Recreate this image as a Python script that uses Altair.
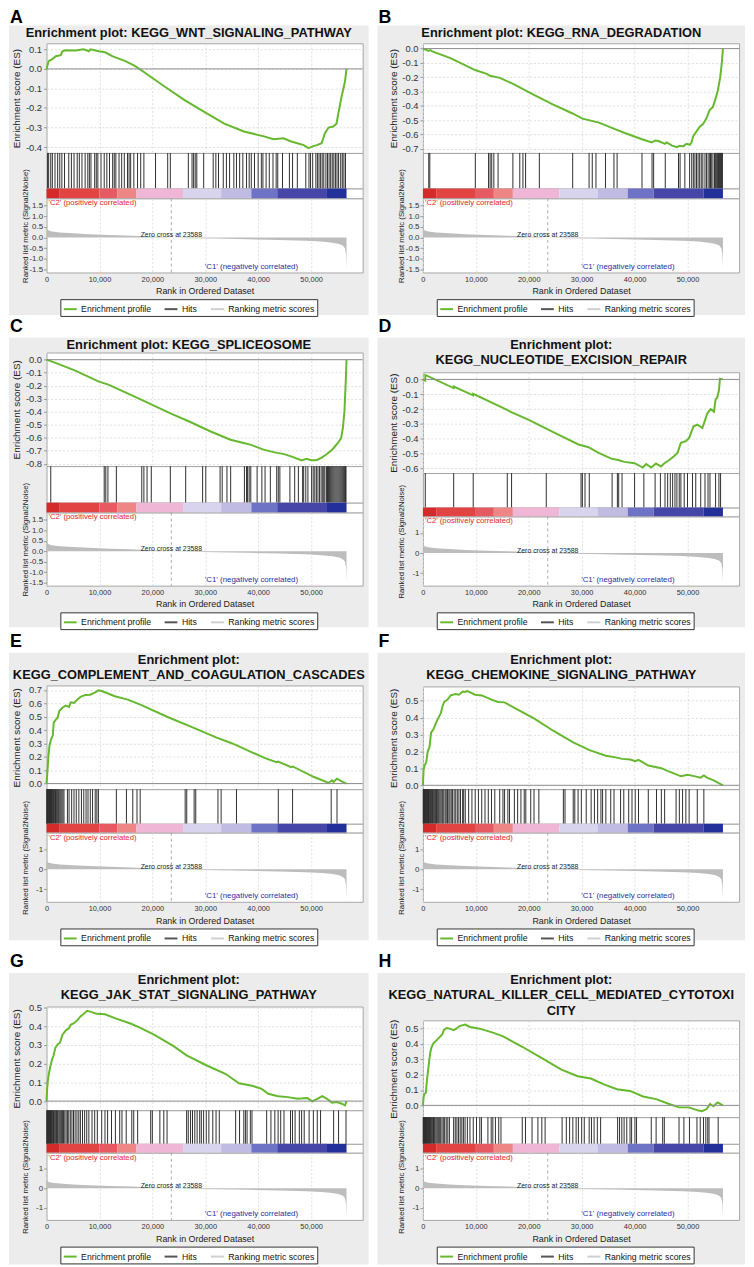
import altair as alt
import pandas as pd

FONT = "Liberation Sans"
GREEN = "#66b82e"
HIT_COLOR = "#2e2e2e"
AREA_GRAY = "#bdbdbd"
PANEL_GRAY = "#ececec"
BORDER = "#a6a6a6"
GRID = "#d6d6d6"
C2_RED = "#e0262b"
C1_BLUE = "#2e2e9e"

PLOT_W = 320
X_MAX = 59750
X_TICKS = [0, 10000, 20000, 30000, 40000, 50000]
ZERO_CROSS = 23588
C1_LABEL_RANK = 29900

# ranked list metric (same dataset in every panel), rank in thousands
METRIC_RANK_K = [0, 0.3, 1, 2.5, 5, 8, 12, 16, 20, 23.588, 27, 32, 38, 44, 49, 52, 54, 55.3, 56.0, 56.4, 56.6, 56.7]
METRIC_VALUE = [0.42, 0.34, 0.29, 0.24, 0.2, 0.16, 0.12, 0.09, 0.05, 0.0, -0.03, -0.05, -0.08, -0.11, -0.15, -0.19, -0.24, -0.3, -0.38, -0.5, -0.8, -1.45]

# colour band under the hits
BAND_START_K = [0, 2.5, 10.0, 13.4, 17.0, 25.8, 33.0, 38.7, 43.6, 53.0]
BAND_END_K = [2.5, 10.0, 13.4, 17.0, 25.8, 33.0, 38.7, 43.6, 53.0, 56.7]
BAND_COLOR = ["#d42a2a", "#e24444", "#e65a62", "#ee8686", "#f0b6d6", "#d8d4ee", "#c0bbe2", "#6f73c6", "#4646a9", "#23309a"]

LEGEND_NAMES = ["Enrichment profile", "Hits", "Ranking metric scores"]
LEGEND_COLORS = [GREEN, "#555555", "#cfcfcf"]

# ---------------- panel A ----------------
A_RANK_K = [0, 0.4, 1.1, 1.75, 2.7, 3.0, 3.6, 5.5, 7.0, 8.0, 8.3, 9.9, 11.1, 12.4, 14.9, 16.7, 18.6, 22.3, 26.1, 29.8, 33.6, 37.3, 41.1, 42.9, 44.8, 46.1, 48.6, 49.5, 50.4, 51.1, 52.0, 52.6, 53.3, 54.2, 54.8, 55.1, 55.7, 56.4, 56.7]
A_ES = [0.0, 0.04, 0.05, 0.065, 0.07, 0.09, 0.095, 0.094, 0.1, 0.09, 0.1, 0.09, 0.085, 0.065, 0.04, 0.015, -0.02, -0.09, -0.16, -0.22, -0.28, -0.32, -0.345, -0.36, -0.355, -0.37, -0.39, -0.405, -0.395, -0.39, -0.38, -0.33, -0.30, -0.295, -0.28, -0.235, -0.15, -0.065, 0.0]
A_HITS_K = [0.2, 0.4, 0.8, 1.1, 1.6, 2.1, 2.5, 2.9, 3.4, 4.2, 4.7, 5.2, 5.8, 6.2, 6.7, 7.3, 7.8, 8.1, 8.4, 9.1, 9.4, 9.7, 10.3, 10.9, 11.4, 11.9, 12.5, 12.8, 13.1, 13.7, 14.2, 14.7, 15.3, 15.6, 15.9, 16.5, 17.2, 17.8, 18.4, 20.6, 22.9, 23.4, 26.8, 27.5, 27.8, 28.1, 28.4, 29.7, 31.5, 32.0, 32.5, 33.4, 34.0, 34.6, 35.4, 35.9, 36.5, 37.1, 37.8, 38.3, 38.7, 39.3, 40.0, 40.6, 40.9, 41.5, 42.1, 42.8, 43.4, 43.7, 44.6, 45.9, 46.5, 47.4, 49.0, 49.6, 49.9, 50.3, 50.9, 51.2, 51.5, 51.8, 52.1, 52.4, 52.8, 53.1, 53.4, 53.7, 54.0, 54.3, 54.6, 54.9, 55.2, 55.6, 55.9, 56.2, 56.5]
A_ES_TICKS = [0.1, 0.0, -0.1, -0.2, -0.3, -0.4]

# ---------------- panel B ----------------
B_RANK_K = [0, 0.8, 1.1, 1.4, 1.75, 5.2, 9.86, 12.05, 12.67, 14.54, 17.04, 20.79, 24.53, 28.28, 30.15, 33.27, 36.4, 38.27, 41.39, 43.26, 43.88, 44.5, 45.76, 46.07, 47.0, 47.94, 48.56, 49.19, 49.81, 50.44, 50.75, 51.06, 51.69, 52.31, 52.93, 53.56, 54.18, 54.81, 55.31, 55.74, 56.18, 56.5, 56.7]
B_ES = [0.0, -0.012, -0.016, -0.01, -0.02, -0.067, -0.15, -0.177, -0.19, -0.205, -0.247, -0.32, -0.39, -0.454, -0.49, -0.518, -0.565, -0.592, -0.634, -0.657, -0.643, -0.647, -0.666, -0.657, -0.677, -0.69, -0.68, -0.684, -0.666, -0.673, -0.657, -0.615, -0.58, -0.546, -0.528, -0.49, -0.43, -0.408, -0.35, -0.293, -0.2, -0.097, 0.0]
B_HITS_K = [1.1, 1.3, 9.9, 12.4, 12.7, 13.0, 13.4, 14.2, 17.0, 18.3, 18.9, 19.4, 22.0, 28.3, 31.4, 32.0, 32.7, 34.5, 36.1, 36.7, 41.4, 43.3, 43.6, 45.8, 48.3, 48.6, 49.5, 50.4, 50.8, 51.1, 51.4, 51.7, 52.0, 52.3, 52.6, 52.9, 53.3, 53.6, 53.9, 54.2, 54.35, 54.5, 54.8, 55.1, 55.25, 55.4, 55.55, 55.7, 55.85, 56.0, 56.1, 56.2, 56.3, 56.4, 56.5, 56.6]
B_ES_TICKS = [0.0, -0.1, -0.2, -0.3, -0.4, -0.5, -0.6, -0.7]

# ---------------- panel C ----------------
C_RANK_K = [0, 1.69, 5.43, 9.8, 11.67, 16.04, 19.79, 23.53, 27.28, 31.02, 34.77, 37.27, 38.51, 41.01, 43.51, 44.76, 46.63, 48.19, 49.13, 50.06, 51.0, 51.94, 52.87, 53.81, 54.43, 55.06, 55.68, 56.0, 56.3, 56.55, 56.7]
C_ES = [0.0, -0.025, -0.084, -0.167, -0.192, -0.273, -0.344, -0.415, -0.481, -0.552, -0.615, -0.64, -0.653, -0.691, -0.716, -0.724, -0.749, -0.775, -0.762, -0.772, -0.772, -0.754, -0.729, -0.699, -0.671, -0.64, -0.603, -0.527, -0.4, -0.17, 0.0]
C_HITS_K = [0.8, 10.9, 11.2, 11.6, 13.2, 18.0, 18.4, 19.0, 19.8, 23.4, 26.3, 29.5, 30.1, 32.8, 33.2, 34.1, 34.8, 37.4, 37.8, 38.0, 38.3, 38.6, 39.8, 40.7, 41.3, 42.3, 43.5, 43.8, 44.1, 46.0, 46.9, 47.6, 48.4, 48.6, 49.0, 49.4, 50.1, 50.4, 50.7, 51.0, 51.3, 51.6, 51.9, 52.2, 52.4, 52.6, 52.9, 53.1, 53.3, 53.5, 53.7, 53.9, 54.1, 54.3, 54.5, 54.7, 54.9, 55.1, 55.3, 55.5, 55.7, 55.9, 56.1, 56.3, 56.5, 56.6]
C_ES_TICKS = [0.0, -0.1, -0.2, -0.3, -0.4, -0.5, -0.6, -0.7, -0.8]

# ---------------- panel D ----------------
D_RANK_K = [0, 0.43, 0.45, 5.8, 5.82, 9.48, 9.5, 15.9, 16.7, 20.0, 25.0, 29.4, 31.3, 33.1, 35.6, 36.9, 38.1, 40.0, 41.56, 42.19, 43.13, 44.06, 45.0, 45.63, 46.56, 47.5, 48.13, 48.75, 49.69, 50.31, 51.13, 51.88, 52.81, 53.13, 53.75, 54.38, 55.0, 55.31, 55.63, 55.94, 56.13, 56.69]
D_ES = [0.0, -0.008, 0.03, -0.058, -0.048, -0.107, -0.097, -0.205, -0.22, -0.272, -0.361, -0.438, -0.456, -0.493, -0.533, -0.542, -0.555, -0.564, -0.593, -0.569, -0.593, -0.566, -0.586, -0.564, -0.542, -0.515, -0.493, -0.427, -0.416, -0.394, -0.316, -0.305, -0.327, -0.294, -0.228, -0.2, -0.217, -0.135, -0.122, -0.073, 0.004, 0.0]
D_HITS_K = [0.44, 5.81, 9.5, 15.94, 16.75, 23.31, 29.88, 30.13, 30.63, 31.44, 35.75, 36.75, 37.0, 37.63, 40.0, 41.75, 43.88, 44.88, 45.75, 46.25, 46.75, 47.19, 47.63, 48.0, 48.44, 48.75, 49.38, 50.0, 50.94, 51.56, 52.5, 53.31, 53.88, 54.25, 55.31, 55.94, 56.25]
D_ES_TICKS = [0.0, -0.1, -0.2, -0.3, -0.4, -0.5, -0.6]

# ---------------- panel E ----------------
E_RANK_K = [0, 0.12, 0.25, 0.37, 0.56, 0.86, 1.17, 1.36, 1.79, 2.1, 2.41, 3.02, 3.64, 4.26, 4.57, 5.19, 5.8, 6.42, 7.35, 8.27, 9.2, 9.81, 10.43, 12.9, 15.37, 17.84, 22.78, 27.72, 32.04, 35.12, 38.83, 41.3, 43.46, 43.77, 46.23, 46.54, 50.56, 53.33, 53.95, 54.26, 54.88, 55.8, 56.7]
E_ES = [0.0, 0.062, 0.135, 0.21, 0.283, 0.333, 0.357, 0.456, 0.48, 0.493, 0.542, 0.567, 0.584, 0.574, 0.608, 0.603, 0.628, 0.648, 0.663, 0.665, 0.682, 0.697, 0.692, 0.653, 0.628, 0.589, 0.5, 0.419, 0.345, 0.3, 0.234, 0.19, 0.16, 0.165, 0.123, 0.128, 0.049, 0.005, 0.025, 0.012, 0.037, 0.017, 0.0]
E_HITS_K = [0.05, 0.1, 0.18, 0.25, 0.33, 0.4, 0.48, 0.57, 0.66, 0.75, 0.86, 0.95, 1.05, 1.16, 1.3, 1.42, 1.55, 1.7, 1.85, 2.0, 2.15, 2.3, 2.5, 2.7, 2.9, 3.1, 3.3, 3.95, 4.26, 4.75, 5.19, 5.62, 6.11, 6.6, 7.04, 7.47, 7.84, 8.27, 8.7, 9.2, 9.51, 9.81, 13.2, 15.1, 16.3, 17.1, 17.7, 26.2, 26.5, 27.9, 28.2, 32.4, 33.0, 35.9, 43.8, 46.5, 53.8, 54.9]
E_ES_TICKS = [0.0, 0.1, 0.2, 0.3, 0.4, 0.5, 0.6, 0.7]

# ---------------- panel F ----------------
F_RANK_K = [0, 0.12, 0.31, 0.62, 0.93, 1.23, 1.54, 1.98, 2.35, 2.78, 3.09, 3.4, 3.7, 4.01, 4.63, 5.25, 6.17, 6.79, 7.53, 8.02, 8.33, 9.88, 11.11, 12.96, 14.2, 15.43, 17.28, 20.99, 24.69, 28.4, 31.48, 34.57, 36.42, 37.65, 39.2, 40.12, 40.74, 42.59, 45.06, 45.99, 48.77, 50.0, 51.23, 52.47, 53.09, 53.7, 54.94, 56.7]
F_ES = [0.0, 0.088, 0.117, 0.136, 0.204, 0.224, 0.311, 0.331, 0.36, 0.389, 0.409, 0.428, 0.467, 0.492, 0.506, 0.531, 0.539, 0.535, 0.554, 0.551, 0.558, 0.535, 0.531, 0.506, 0.492, 0.49, 0.457, 0.395, 0.321, 0.253, 0.208, 0.175, 0.165, 0.156, 0.152, 0.142, 0.15, 0.117, 0.101, 0.088, 0.053, 0.062, 0.054, 0.045, 0.058, 0.045, 0.029, 0.0]
F_HITS_K = [0.05, 0.12, 0.2, 0.3, 0.38, 0.46, 0.55, 0.65, 0.75, 0.85, 0.95, 1.05, 1.15, 1.28, 1.4, 1.52, 1.65, 1.8, 1.95, 2.1, 2.25, 2.4, 2.55, 2.7, 2.85, 3.0, 3.2, 3.4, 3.6, 3.75, 3.95, 4.2, 4.4, 4.65, 4.9, 5.1, 5.35, 5.6, 5.9, 6.2, 6.5, 6.8, 7.1, 7.5, 7.7, 8.0, 8.64, 9.26, 9.88, 10.49, 11.11, 11.73, 12.35, 12.96, 13.58, 14.51, 15.12, 15.43, 16.05, 16.36, 17.28, 17.9, 18.52, 19.14, 19.44, 20.37, 20.99, 21.91, 26.54, 26.85, 28.4, 28.7, 29.32, 29.94, 30.86, 31.79, 32.41, 33.02, 33.64, 33.95, 34.57, 35.49, 36.11, 37.35, 37.96, 38.89, 39.51, 40.12, 40.74, 42.59, 44.14, 45.06, 45.68, 47.84, 48.46, 49.07, 49.69, 50.31, 51.85, 53.09]
F_ES_TICKS = [0.0, 0.1, 0.2, 0.3, 0.4, 0.5]

# ---------------- panel G ----------------
G_RANK_K = [0, 0.12, 0.25, 0.43, 0.68, 1.05, 1.3, 1.67, 2.1, 2.53, 3.02, 3.64, 4.26, 4.57, 5.19, 5.8, 6.42, 7.04, 7.65, 8.27, 9.51, 11.05, 12.9, 15.99, 17.84, 20.31, 24.01, 26.48, 30.19, 33.89, 36.36, 38.83, 40.68, 41.91, 43.77, 45.62, 47.47, 49.32, 50.25, 51.17, 52.1, 53.02, 53.95, 54.88, 55.8, 56.42, 56.7]
G_ES = [0.0, 0.065, 0.109, 0.144, 0.179, 0.223, 0.24, 0.284, 0.302, 0.311, 0.354, 0.377, 0.389, 0.407, 0.416, 0.43, 0.451, 0.465, 0.481, 0.477, 0.465, 0.463, 0.442, 0.412, 0.389, 0.354, 0.293, 0.244, 0.191, 0.144, 0.095, 0.082, 0.065, 0.039, 0.026, 0.021, 0.012, 0.016, -0.002, 0.012, 0.026, 0.012, -0.009, -0.005, -0.014, -0.023, 0.0]
G_HITS_K = [0.05, 0.12, 0.2, 0.28, 0.36, 0.45, 0.55, 0.65, 0.75, 0.85, 0.95, 1.08, 1.2, 1.32, 1.45, 1.6, 1.75, 1.9, 2.05, 2.2, 2.4, 2.6, 2.8, 3.0, 3.2, 3.45, 3.7, 3.95, 4.2, 4.5, 4.8, 5.1, 5.4, 5.75, 6.1, 6.4, 6.8, 7.2, 7.6, 8.0, 8.6, 9.1, 9.6, 10.43, 11.05, 11.54, 12.28, 13.02, 13.83, 14.26, 15.06, 16.11, 16.48, 17.22, 19.69, 20.0, 21.42, 22.16, 22.78, 26.48, 26.79, 27.22, 27.59, 28.02, 28.46, 28.95, 29.26, 29.69, 30.19, 30.68, 31.42, 32.04, 32.65, 35.74, 36.48, 37.28, 37.59, 37.9, 38.52, 38.83, 41.6, 42.41, 43.15, 43.77, 44.26, 44.88, 46.11, 46.48, 46.98, 47.78, 48.21, 48.7, 49.63, 50.43, 51.17, 51.79, 54.26, 55.19, 56.6]
G_ES_TICKS = [0.0, 0.1, 0.2, 0.3, 0.4, 0.5]

# ---------------- panel H ----------------
H_RANK_K = [0, 0.12, 0.25, 0.56, 0.74, 0.99, 1.17, 1.36, 1.6, 1.98, 2.41, 3.02, 3.64, 3.95, 4.44, 5.06, 5.8, 6.3, 6.91, 7.96, 8.89, 10.74, 13.21, 15.06, 18.77, 22.47, 26.17, 29.26, 31.73, 34.2, 36.67, 39.14, 41.6, 44.07, 46.54, 48.4, 50.25, 52.1, 52.72, 53.64, 54.26, 54.88, 55.68, 56.7]
H_ES = [0.0, 0.051, 0.073, 0.083, 0.158, 0.233, 0.286, 0.34, 0.376, 0.404, 0.419, 0.44, 0.462, 0.49, 0.504, 0.5, 0.49, 0.5, 0.517, 0.526, 0.511, 0.5, 0.474, 0.451, 0.382, 0.308, 0.233, 0.19, 0.175, 0.137, 0.105, 0.094, 0.058, 0.041, 0.009, -0.013, -0.013, -0.034, -0.038, -0.024, 0.009, -0.006, 0.019, 0.0]
H_HITS_K = [0.05, 0.1, 0.17, 0.25, 0.32, 0.4, 0.48, 0.56, 0.65, 0.74, 0.83, 0.92, 1.02, 1.12, 1.22, 1.33, 1.45, 1.57, 1.7, 1.85, 2.0, 2.15, 2.3, 2.5, 2.7, 2.9, 3.1, 3.35, 3.6, 3.85, 4.1, 4.4, 4.7, 5.0, 5.8, 6.11, 6.42, 6.73, 7.04, 7.35, 7.65, 7.96, 8.4, 8.89, 9.51, 10.12, 10.74, 11.05, 12.28, 12.9, 13.21, 13.7, 14.32, 14.75, 18.77, 19.38, 20.62, 21.73, 22.47, 23.09, 26.3, 27.1, 27.72, 28.33, 28.95, 29.38, 30.0, 30.49, 31.42, 31.85, 32.35, 32.96, 33.58, 36.79, 37.16, 37.59, 38.02, 38.52, 39.14, 39.44, 40.06, 40.37, 43.15, 44.07, 45.31, 45.62, 48.4, 49.32, 50.37, 51.79, 52.41, 53.02, 53.46, 53.83, 54.07, 55.8]
H_ES_TICKS = [0.0, 0.1, 0.2, 0.3, 0.4, 0.5]

M_DOMAIN_WIDE = [-1.65, 1.85]
M_TICKS_WIDE = [-1.5, -1.0, -0.5, 0.0, 0.5, 1.0, 1.5]
M_DOMAIN_NARROW = [-1.62, 1.82]
M_TICKS_NARROW = [-1, 0, 1]

PANELS = [
    dict(letter="A", title=["Enrichment plot: KEGG_WNT_SIGNALING_PATHWAY"], rank=A_RANK_K, es=A_ES, hits=A_HITS_K,
         es_domain=[-0.43, 0.131], es_ticks=A_ES_TICKS, m_domain=M_DOMAIN_WIDE, m_ticks=M_TICKS_WIDE, m_fmt=".1f",
         strip=17, letter_up=3, title_h=18, es_h=111, hits_h=36, band_h=10, metric_h=75, bottom_h=43),
    dict(letter="B", title=["Enrichment plot: KEGG_RNA_DEGRADATION"], rank=B_RANK_K, es=B_ES, hits=B_HITS_K,
         es_domain=[-0.73, 0.037], es_ticks=B_ES_TICKS, m_domain=M_DOMAIN_WIDE, m_ticks=M_TICKS_WIDE, m_fmt=".1f",
         strip=17, letter_up=3, title_h=18, es_h=111, hits_h=36, band_h=10, metric_h=75, bottom_h=43),
    dict(letter="C", title=["Enrichment plot: KEGG_SPLICEOSOME"], rank=C_RANK_K, es=C_ES, hits=C_HITS_K,
         es_domain=[-0.818, 0.055], es_ticks=C_ES_TICKS, m_domain=M_DOMAIN_WIDE, m_ticks=M_TICKS_WIDE, m_fmt=".1f",
         strip=19, letter_up=6, title_h=15, es_h=115, hits_h=37, band_h=10, metric_h=74, bottom_h=42),
    dict(letter="D", title=["Enrichment plot:", "KEGG_NUCLEOTIDE_EXCISION_REPAIR"], rank=D_RANK_K, es=D_ES, hits=D_HITS_K,
         es_domain=[-0.63, 0.048], es_ticks=D_ES_TICKS, m_domain=M_DOMAIN_NARROW, m_ticks=M_TICKS_NARROW, m_fmt=".0f",
         strip=19, letter_up=6, title_h=35, es_h=102, hits_h=35, band_h=9, metric_h=70, bottom_h=42),
    dict(letter="E", title=["Enrichment plot:", "KEGG_COMPLEMENT_AND_COAGULATION_CASCADES"], rank=E_RANK_K, es=E_ES, hits=E_HITS_K,
         es_domain=[-0.042, 0.734], es_ticks=E_ES_TICKS, m_domain=M_DOMAIN_NARROW, m_ticks=M_TICKS_NARROW, m_fmt=".0f",
         strip=22, letter_up=6, title_h=33, es_h=105, hits_h=35, band_h=9, metric_h=70, bottom_h=39),
    dict(letter="F", title=["Enrichment plot:", "KEGG_CHEMOKINE_SIGNALING_PATHWAY"], rank=F_RANK_K, es=F_ES, hits=F_HITS_K,
         es_domain=[-0.023, 0.584], es_ticks=F_ES_TICKS, m_domain=M_DOMAIN_NARROW, m_ticks=M_TICKS_NARROW, m_fmt=".0f",
         strip=22, letter_up=6, title_h=34, es_h=104, hits_h=35, band_h=9, metric_h=70, bottom_h=39),
    dict(letter="G", title=["Enrichment plot:", "KEGG_JAK_STAT_SIGNALING_PATHWAY"], rank=G_RANK_K, es=G_ES, hits=G_HITS_K,
         es_domain=[-0.049, 0.504], es_ticks=G_ES_TICKS, m_domain=M_DOMAIN_NARROW, m_ticks=M_TICKS_NARROW, m_fmt=".0f",
         strip=26, letter_up=6, title_h=34, es_h=105, hits_h=34, band_h=9, metric_h=68, bottom_h=45),
    dict(letter="H", title=["Enrichment plot:", "KEGG_NATURAL_KILLER_CELL_MEDIATED_CYTOTOXI", "CITY"], rank=H_RANK_K, es=H_ES, hits=H_HITS_K,
         es_domain=[-0.077, 0.554], es_ticks=H_ES_TICKS, m_domain=M_DOMAIN_NARROW, m_ticks=M_TICKS_NARROW, m_fmt=".0f",
         strip=26, letter_up=6, title_h=48, es_h=98, hits_h=27, band_h=9, metric_h=68, bottom_h=45),
]


def lab_expr(fmt):
    return "datum.value < 0 ? '-' + format(-datum.value, '%s') : format(datum.value, '%s')" % (fmt, fmt)


def plot_view():
    return alt.ViewBackground(fill="white", stroke=BORDER, strokeWidth=1)


def make_panel(p, gl, gr):
    one = pd.DataFrame({"k": [0]})
    gray_h = p["title_h"] + p["es_h"] + p["hits_h"] + p["band_h"] + p["metric_h"] + p["bottom_h"]
    strip = p["strip"]
    cx = (PLOT_W + gr - gl) / 2.0

    # header: panel background, letter, title
    bg = alt.Chart(one).mark_rect(color=PANEL_GRAY).encode(
        x=alt.value(-gl), x2=alt.value(PLOT_W + gr), y=alt.value(strip), y2=alt.value(strip + gray_h))
    letter = alt.Chart(one).mark_text(text=p["letter"], font=FONT, fontSize=18, fontWeight="bold",
                                      align="left", baseline="alphabetic", color="black").encode(
        x=alt.value(-gl + 1), y=alt.value(strip - p["letter_up"]))
    titles = []
    for i, line in enumerate(p["title"]):
        titles.append(alt.Chart(one).mark_text(text=line, font=FONT, fontSize=13, fontWeight="bold",
                                               align="center", baseline="middle", color="#111").encode(
            x=alt.value(cx), y=alt.value(strip + 7.5 + i * 15.3)))
    header = alt.layer(bg, letter, *titles).properties(
        width=PLOT_W, height=strip + p["title_h"],
        view=alt.ViewBackground(fill="transparent", stroke="transparent"))

    xs = alt.Scale(domain=[0, X_MAX], nice=False, zero=False)

    # enrichment score
    es_df = pd.DataFrame({"rank": [r * 1000 for r in p["rank"]], "es": p["es"]})
    es_scale = alt.Scale(domain=p["es_domain"], nice=False, zero=False)
    es_yaxis = alt.Axis(values=p["es_ticks"], tickCount=50, labelExpr=lab_expr(".1f"), labelFontSize=9.5,
                        labelPadding=2, labelOverlap=False, labelFlush=False,
                        ticks=True, tickSize=3, grid=True, title="Enrichment score (ES)", titleFontSize=10,
                        titleX=-30, titleY=p["es_h"] / 2.0, titleAngle=-90, titleAlign="center",
                        titleBaseline="middle")
    es_xaxis = alt.Axis(values=X_TICKS, tickCount=50, grid=True, labels=False, ticks=False, domain=False,
                        title=None)
    es_line = alt.Chart(es_df).mark_line(color=GREEN, strokeWidth=2).encode(
        x=alt.X("rank:Q", scale=xs, axis=es_xaxis),
        y=alt.Y("es:Q", scale=es_scale, axis=es_yaxis))
    zero_df = pd.DataFrame({"es": [0.0]})
    es_zero = alt.Chart(zero_df).mark_rule(color="#8c8c8c", strokeWidth=1).encode(y=alt.Y("es:Q"))
    es_chart = alt.layer(es_line, es_zero).properties(width=PLOT_W, height=p["es_h"], view=plot_view())

    # hits
    hits_df = pd.DataFrame({"rank": [h * 1000 for h in p["hits"]]})
    hits = alt.Chart(hits_df).mark_rule(color=HIT_COLOR, strokeWidth=1).encode(
        x=alt.X("rank:Q", scale=xs, axis=None)).properties(width=PLOT_W, height=p["hits_h"], view=plot_view())

    # colour band
    band_df = pd.DataFrame({"start": [s * 1000 for s in BAND_START_K], "end": [e * 1000 for e in BAND_END_K],
                            "color": BAND_COLOR})
    band = alt.Chart(band_df).mark_rect().encode(
        x=alt.X("start:Q", scale=xs, axis=None), x2="end:Q",
        color=alt.Color("color:N", scale=None)).properties(width=PLOT_W, height=p["band_h"], view=plot_view())

    # ranked list metric
    mh = p["metric_h"]
    m_df = pd.DataFrame({"rank": [r * 1000 for r in METRIC_RANK_K], "metric": METRIC_VALUE})
    m_scale = alt.Scale(domain=p["m_domain"], nice=False, zero=False)
    m_xaxis = alt.Axis(values=X_TICKS, tickCount=50, format=",d", labelFontSize=7.5, labelPadding=3, ticks=False,
                       grid=True, labelOverlap=False, labelFlush=False,
                       title="Rank in Ordered Dataset", titleFontSize=9, titleX=PLOT_W / 2.0, titleY=21.5,
                       titleAlign="center", titleBaseline="alphabetic")
    m_yaxis = alt.Axis(values=p["m_ticks"], tickCount=50, labelExpr=lab_expr(p["m_fmt"]), labelFontSize=8,
                       labelPadding=1, labelOverlap=False, labelFlush=False,
                       ticks=True, tickSize=3, grid=False, title="Ranked list metric (Signal2Noise)",
                       titleFontSize=7.8, titleX=-21.5, titleY=mh / 2.0 - 10, titleAngle=-90,
                       titleAlign="center", titleBaseline="middle")
    area = alt.Chart(m_df).mark_area(color=AREA_GRAY, interpolate="linear").encode(
        x=alt.X("rank:Q", scale=xs, axis=m_xaxis),
        y=alt.Y("metric:Q", scale=m_scale, axis=m_yaxis),
        y2=alt.datum(0))
    zc_df = pd.DataFrame({"rank": [ZERO_CROSS], "metric": [0.0], "label": ["Zero cross at %d" % ZERO_CROSS]})
    zc_rule = alt.Chart(zc_df).mark_rule(color="#9a9a9a", strokeDash=[3, 3], strokeWidth=0.8).encode(x="rank:Q")
    zc_text = alt.Chart(zc_df).mark_text(font=FONT, fontSize=7, color="#222", baseline="alphabetic",
                                         align="center", dy=-0.5).encode(
        x="rank:Q", y="metric:Q", text="label:N")
    c2 = alt.Chart(one).mark_text(text="'C2' (positively correlated)", font=FONT, fontSize=7.8, color=C2_RED,
                                  align="left", baseline="top").encode(x=alt.value(2), y=alt.value(1))
    c1_df = pd.DataFrame({"rank": [C1_LABEL_RANK]})
    c1 = alt.Chart(c1_df).mark_text(text="'C1' (negatively correlated)", font=FONT, fontSize=8, color=C1_BLUE,
                                    align="left", baseline="bottom").encode(x="rank:Q", y=alt.value(mh - 1.5))
    leg_df = pd.DataFrame({"name": LEGEND_NAMES, "rank": [0, 0, 0], "metric": [0.0, 0.0, 0.0]})
    leg = alt.Chart(leg_df).mark_line(opacity=0, strokeWidth=2).encode(
        x="rank:Q", y="metric:Q",
        color=alt.Color("name:N", scale=alt.Scale(domain=LEGEND_NAMES, range=LEGEND_COLORS),
                        legend=alt.Legend(title=None, orient="none", legendX=14, legendY=mh + 27,
                                          direction="horizontal", symbolType="stroke", symbolSize=170,
                                          symbolStrokeWidth=2, symbolOpacity=1, labelFontSize=8.8,
                                          labelFont=FONT, labelColor="#111", columnPadding=9, padding=2,
                                          strokeColor="#333", fillColor="white", labelOffset=3)))
    metric = alt.layer(area, zc_rule, zc_text, c2, c1, leg).properties(
        width=PLOT_W, height=mh, view=plot_view())

    return alt.vconcat(header, es_chart, hits, band, metric, spacing=0, bounds="flush").resolve_scale(
        color="independent")


rows = []
for i in range(4):
    left = make_panel(PANELS[2 * i], 38, 6)
    right = make_panel(PANELS[2 * i + 1], 46, 6)
    rows.append(alt.hconcat(left, right, spacing=7).resolve_scale(color="independent"))

PAD = {"left": 0, "top": -8, "right": 0, "bottom": 0}
chart = alt.vconcat(*rows, spacing=0, padding=PAD, background="white").resolve_scale(
    color="independent").configure_axis(
    labelFont=FONT, titleFont=FONT, labelColor="#333", titleColor="#222", titleFontWeight="normal",
    domain=False, tickColor="#999", gridColor=GRID, gridDash=[2, 2], gridWidth=0.8)

chart.save("out.html", embed_options={"renderer": "svg", "actions": False})
